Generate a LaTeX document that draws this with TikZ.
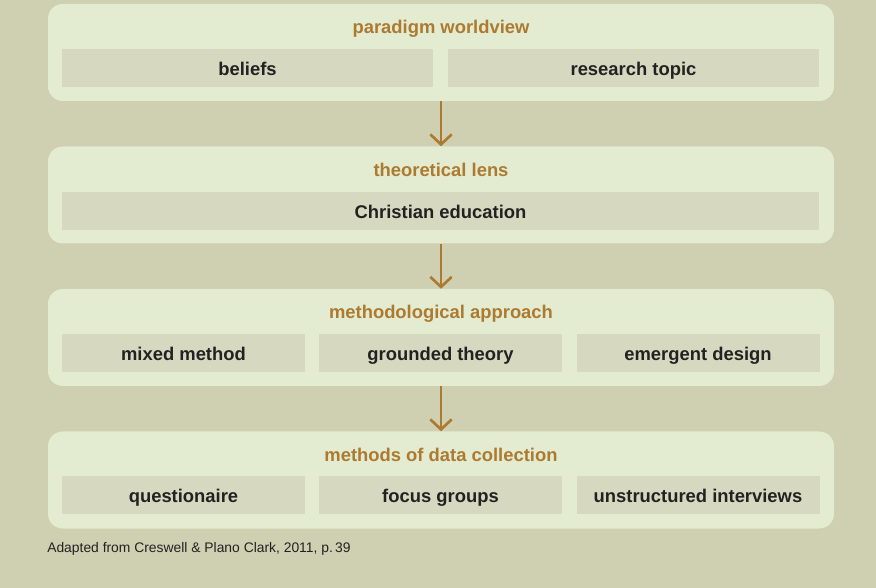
\documentclass[tikz,border=0pt]{standalone}
\usepackage{fontspec}
\setmainfont{Liberation Sans}
\usepackage{xcolor}
\usetikzlibrary{arrows.meta}

\definecolor{pagebg}{HTML}{CFCFB2}
\definecolor{layerbg}{HTML}{E3EBD1}
\definecolor{itembg}{HTML}{D6D8BF}
\definecolor{ochre}{HTML}{AC7A30}
\definecolor{itemtext}{HTML}{222222}

\tikzset{
  layer/.style={fill=layerbg, rounded corners=11pt, inner sep=0pt,
    minimum width=589.5pt, minimum height=72.75pt},
  layertitle/.style={text=ochre, font=\fontsize{13.8}{16}\selectfont\bfseries,
    inner sep=0pt, anchor=base},
  item/.style={fill=itembg, text=itemtext, inner sep=0pt, minimum height=28.5pt,
    text height=12pt, text depth=1pt, font=\fontsize{13.8}{16}\selectfont\bfseries},
  halfitem/.style={item, minimum width=278.25pt},
  thirditem/.style={item, minimum width=182.25pt},
  fullitem/.style={item, minimum width=567.75pt},
  flow/.style={draw=ochre, line width=2pt, -{Straight Barb[length=7.5pt,width=16pt]}}
}

\begin{document}
\begin{tikzpicture}[x=0.75pt,y=-0.75pt]
        \fill [pagebg] (0,0) rectangle (876,588);
        \useasboundingbox (0,0) rectangle (876,588);

        % Layer 1: paradigm worldview
        \node [layer] (worldview) at (441,52.5) {};
        \node [layertitle] (worldviewtitle) at (441,34) {paradigm worldview};
        \node [halfitem] (beliefs) at (247.5,68) {beliefs};
        \node [halfitem] (topic) at (633.5,68) {research topic};

        % Layer 2: theoretical lens
        \node [layer] (lens) at (441,195) {};
        \node [layertitle] (lenstitle) at (441,176.5) {theoretical lens};
        \node [fullitem] (christian) at (440.5,211) {Christian education};

        % Layer 3: methodological approach
        \node [layer] (approach) at (441,337.5) {};
        \node [layertitle] (approachtitle) at (441,319) {methodological approach};
        \node [thirditem] (mixed) at (183.5,353) {mixed method};
        \node [thirditem] (grounded) at (440.5,353) {grounded theory};
        \node [thirditem] (emergent) at (698,353) {emergent design};

        % Layer 4: methods of data collection
        \node [layer] (collection) at (441,480) {};
        \node [layertitle] (collectiontitle) at (441,461) {methods of data collection};
        \node [thirditem] (questionaire) at (183.5,495) {questionaire};
        \node [thirditem] (focus) at (440.5,495) {focus groups};
        \node [thirditem] (interviews) at (698,495) {unstructured interviews};

        % Arrows between the layers
        \draw [flow] (worldview.south) -- (lens.north);
        \draw [flow] (lens.south) -- (approach.north);
        \draw [flow] (approach.south) -- (collection.north);

        % Source line
        \node [anchor=base west, inner sep=0pt, text=itemtext, font=\fontsize{10.4}{12}\selectfont]
          (source) at (47,552) {Adapted from Creswell \& Plano Clark, 2011, p.\,39};
\end{tikzpicture}
\end{document}
